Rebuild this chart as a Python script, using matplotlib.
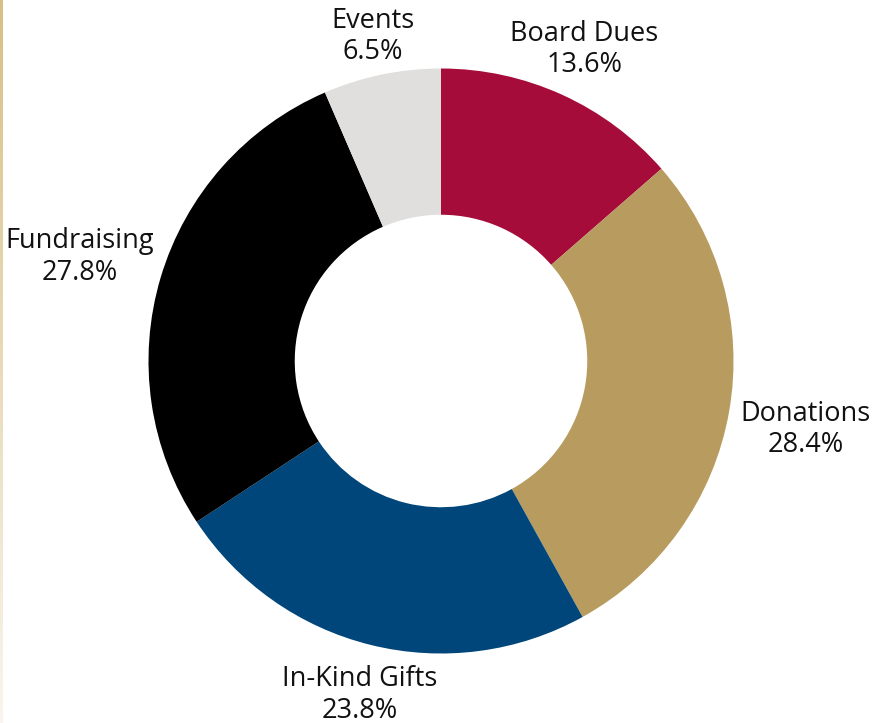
import numpy as np
import matplotlib
matplotlib.use("Agg")
import matplotlib.pyplot as plt

# --- data ---
categories = ["Board Dues", "Donations", "In-Kind Gifts", "Fundraising", "Events"]
shares = [13.6, 28.4, 23.8, 27.8, 6.5]
colors = ["#A50C3A", "#B89B5E", "#00467A", "#000000", "#E0DFDD"]

plt.rcParams['font.family'] = ['Open Sans', 'DejaVu Sans']

W, H = 876, 723
cx, cy, R = 441, 361, 292.5   # pixel geometry of the donut

fig = plt.figure(figsize=(W / 100, H / 100), dpi=100)
ax = fig.add_axes([0, 0, 1, 1])

wedges, _ = ax.pie(shares, colors=colors, startangle=90, counterclock=False,
                   radius=1.0, wedgeprops=dict(width=0.5, linewidth=0))

# pie() resets the limits, so set them afterwards
ax.set_xlim(-cx / R, (W - cx) / R)
ax.set_ylim(-(H - cy) / R, cy / R)
ax.set_aspect("equal")
ax.axis("off")

renderer = fig.canvas.get_renderer()

# labels outside: box centre on the mid-angle ray, pushed out by its half-size
r0 = 1.045
for w, cat, val in zip(wedges, categories, shares):
    ang = np.deg2rad((w.theta1 + w.theta2) / 2)
    c, s = np.cos(ang), np.sin(ang)
    t = ax.text(0, 0, f"{cat}\n{val}%", ha="center", va="center",
                multialignment="center", fontsize=19.5, color="#111111",
                linespacing=1.15)
    bb = t.get_window_extent(renderer)
    hw, hh = bb.width / 2 / R, bb.height / 2 / R
    d = r0 + np.hypot(hw * c, hh * s)
    t.set_position((d * c, d * s - 4 / R))  # small optical nudge down

# thin gold rule on left edge, fading toward bottom
gax = fig.add_axes([0, 0, 3 / W, 1])
grad = np.linspace(1, 0.15, 256).reshape(-1, 1)
rgba = np.zeros((256, 1, 4))
rgba[..., 0] = 0.85
rgba[..., 1] = 0.75
rgba[..., 2] = 0.52
rgba[..., 3] = grad
gax.imshow(rgba, aspect="auto", extent=[0, 1, 0, 1])
gax.axis("off")

fig.savefig("out.png", dpi=100, facecolor="white")
